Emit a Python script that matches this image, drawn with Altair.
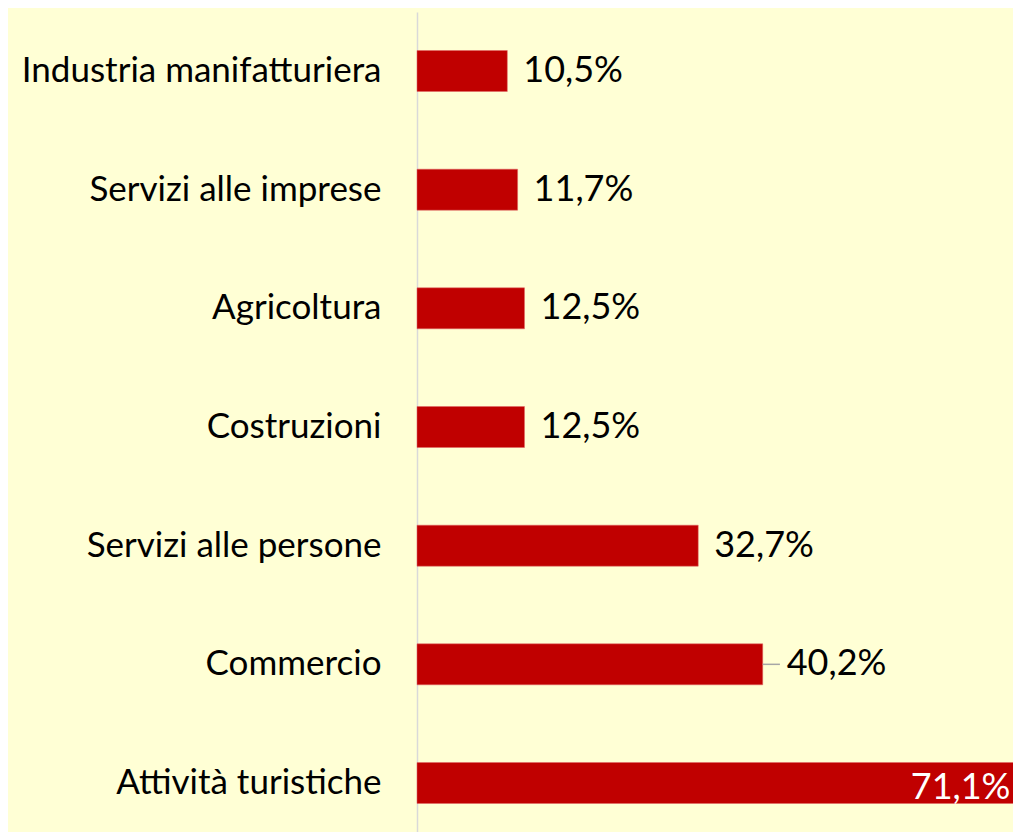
import altair as alt
import pandas as pd

categories = [
    "Industria manifatturiera",
    "Servizi alle imprese",
    "Agricoltura",
    "Costruzioni",
    "Servizi  alle persone",
    "Commercio",
    "Attività turistiche",
]
values = [10.5, 11.7, 12.5, 12.5, 32.7, 40.2, 71.1]
labels = ["10,5%", "11,7%", "12,5%", "12,5%", "32,7%", "40,2%", "71,1%"]
placement = ["out", "out", "out", "out", "out", "leader", "in"]

df = pd.DataFrame({"cat": categories, "value": values, "label": labels, "place": placement})

BG = "#FFFFD5"
RED = "#C00000"
FONT = "Lato"

y_enc = alt.Y(
    "cat:N",
    sort=categories,
    scale=alt.Scale(paddingInner=0.6545, paddingOuter=0.3245, range=[0, 830]),
    axis=alt.Axis(
        title=None,
        ticks=False,
        grid=False,
        domain=True,
        domainColor="#D9D9D9",
        domainWidth=1.5,
        labelFont=FONT,
        labelFontSize=35,
        labelColor="#000000",
        labelPadding=36,
        labelLimit=0,
    ),
)
x_scale = alt.Scale(domain=[0, 596 / 8.6], nice=False, zero=True)
x_enc = alt.X("value:Q", scale=x_scale, axis=None)

base = alt.Chart(df)

bars = base.mark_bar(color=RED, stroke="#E06666", strokeWidth=0.5).encode(y=y_enc, x=x_enc)

out_text = base.transform_filter("datum.place == 'out'").mark_text(
    align="left", baseline="middle", dx=16, font=FONT, fontSize=36, color="#000000"
).encode(y=alt.Y("cat:N", sort=categories), x=alt.X("value:Q"), text="label:N")

lead_text = base.transform_filter("datum.place == 'leader'").mark_text(
    align="left", baseline="middle", dx=24, font=FONT, fontSize=36, color="#000000"
).encode(y=alt.Y("cat:N", sort=categories), x=alt.X("value:Q"), text="label:N")

lead_rule = base.transform_filter("datum.place == 'leader'").transform_calculate(
    lead_end="datum.value + 2"
).mark_rule(color="#A6A6A6", strokeWidth=1.5).encode(
    y=alt.Y("cat:N", sort=categories), x=alt.X("value:Q"), x2="lead_end:Q"
)

in_text = base.transform_filter("datum.place == 'in'").mark_text(
    align="right", baseline="middle", dx=-18, dy=5, font=FONT, fontSize=36, color="#FFFFFF"
).encode(y=alt.Y("cat:N", sort=categories), x=alt.X("value:Q"), text="label:N")

chart = (
    alt.layer(bars, lead_rule, out_text, lead_text, in_text)
    .properties(
        width=596,
        height=820,
        background=BG,
        autosize=alt.AutoSizeParams(type="none"),
        padding={"left": 409, "top": 4, "right": 0, "bottom": 0},
    )
    .configure_view(stroke=None, fill=BG)
)

chart.save("out.html", embed_options={"renderer": "svg", "actions": False})
